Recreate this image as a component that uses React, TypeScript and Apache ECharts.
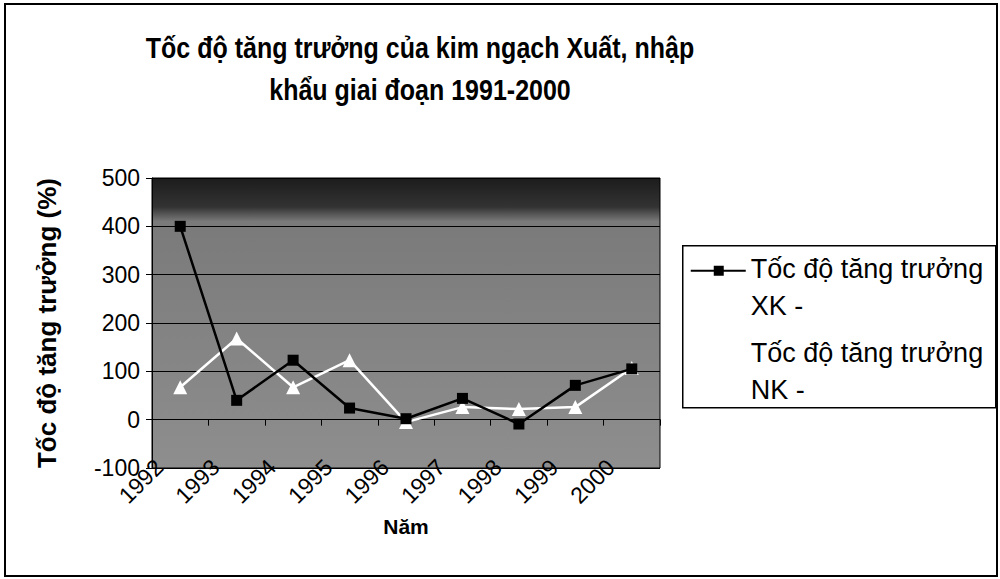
import React, { useEffect, useRef } from "react";
import * as echarts from "echarts";

const TITLE_LINES = ["Tốc độ tăng trưởng của kim ngạch Xuất, nhập", "khẩu giai đoạn 1991-2000"];
const Y_NAME = "Tốc độ tăng trưởng (%)";
const X_NAME = "Năm";
const years = ["1992", "1993", "1994", "1995", "1996", "1997", "1998", "1999", "2000"];
const seriesNames = ["Tốc độ tăng trưởng XK -", "Tốc độ tăng trưởng NK -"];
const legendLabels = ["Tốc độ tăng trưởng\nXK -", "Tốc độ tăng trưởng\nNK -"];
const xkGrowth = [400, 40, 123, 24, 2, 44, -9, 71, 105];
const nkGrowth = [67, 168, 67, 123, -5, 26, 22, 26, 107];
const yTicks = { min: -100, max: 500, interval: 100 };

const FONT = 'Arial, "Liberation Sans", sans-serif';

export default function App() {
  const ref = useRef<HTMLDivElement>(null);
  useEffect(() => {
    if (!ref.current) return;
    const chart = echarts.init(ref.current, undefined, { renderer: "svg" });
    chart.setOption({
      animation: false,
      backgroundColor: "#ffffff",
      textStyle: { fontFamily: FONT, color: "#000" },
      grid: {
        left: 152,
        right: 340,
        top: 178,
        bottom: 111,
        show: true,
        borderColor: "#000",
        borderWidth: 1,
        backgroundColor: new echarts.graphic.LinearGradient(0, 0, 0, 1, [
          { offset: 0, color: "#1c1c1c" },
          { offset: 0.1, color: "#333333" },
          { offset: 0.15, color: "#7a7a7a" },
          { offset: 1, color: "#8e8e8e" },
        ]),
      },
      xAxis: [
        {
          type: "category",
          data: years,
          position: "bottom",
          axisLine: { show: true, onZero: true, lineStyle: { color: "#000", width: 1 } },
          axisTick: { show: true, inside: false, length: 6, lineStyle: { color: "#000" } },
          axisLabel: { show: false },
          splitLine: { show: false },
        },
        {
          type: "category",
          data: years,
          position: "bottom",
          axisLine: { show: false, onZero: false },
          axisTick: { show: false },
          splitLine: { show: false },
          z: 5,
          axisLabel: {
            rotate: 45,
            margin: -26,
            padding: [0, 30, 0, 0],
            fontSize: 23,
            fontFamily: FONT,
            color: "#000",
          },
          name: X_NAME,
          nameLocation: "middle",
          nameGap: 48,
          nameMoveOverlap: false,
          nameTextStyle: { fontFamily: FONT, fontSize: 21, fontWeight: "bold", color: "#000" },
        },
      ],
      yAxis: {
        type: "value",
        min: yTicks.min,
        max: yTicks.max,
        interval: yTicks.interval,
        axisLine: { show: true, lineStyle: { color: "#000", width: 1 } },
        axisTick: { show: true, inside: false, length: 6, lineStyle: { color: "#000" } },
        axisLabel: { fontSize: 23, fontFamily: FONT, color: "#000", margin: 12 },
        splitLine: { show: true, lineStyle: { color: "#000", width: 1 } },
        name: Y_NAME,
        nameLocation: "middle",
        nameGap: 92,
        nameMoveOverlap: false,
        nameTextStyle: { fontFamily: FONT, fontSize: 26, fontWeight: "bold", color: "#000" },
      },
      series: [
        {
          name: seriesNames[0],
          type: "line",
          data: xkGrowth,
          xAxisIndex: 0,
          symbol: "rect",
          symbolSize: 11,
          itemStyle: { color: "#000" },
          lineStyle: { color: "#000", width: 2.5 },
        },
        {
          name: seriesNames[1],
          type: "line",
          data: nkGrowth,
          xAxisIndex: 0,
          symbol: "triangle",
          symbolSize: 14,
          itemStyle: { color: "#fff" },
          lineStyle: { color: "#fff", width: 2.5 },
          z: 1,
        },
      ],
      graphic: [
        {
          type: "rect",
          shape: { x: 5, y: 4, width: 992, height: 572 },
          style: { fill: "none", stroke: "#000", lineWidth: 2 },
          silent: true,
        },
        {
          type: "text",
          x: 420,
          y: 48,
          scaleY: 1.2,
          style: {
            text: TITLE_LINES[0],
            fontFamily: FONT,
            fontSize: 25,
            fontWeight: "bold",
            fill: "#000",
            align: "center",
            verticalAlign: "middle",
          },
        },
        {
          type: "text",
          x: 420,
          y: 90,
          scaleY: 1.2,
          style: {
            text: TITLE_LINES[1],
            fontFamily: FONT,
            fontSize: 25,
            fontWeight: "bold",
            fill: "#000",
            align: "center",
            verticalAlign: "middle",
          },
        },
        {
          type: "group",
          left: 682,
          top: 245,
          children: [
            {
              type: "rect",
              shape: { x: 0, y: 0, width: 313, height: 162 },
              style: { fill: "#fff", stroke: "#000", lineWidth: 1.5 },
            },
            {
              type: "line",
              shape: { x1: 8, y1: 25, x2: 63, y2: 25 },
              style: { stroke: "#000", lineWidth: 2 },
            },
            {
              type: "rect",
              shape: { x: 31, y: 20, width: 10, height: 10 },
              style: { fill: "#000" },
            },
            {
              type: "text",
              x: 68,
              y: 5,
              style: { text: legendLabels[0], fontFamily: FONT, fontSize: 27, lineHeight: 37, fill: "#000" },
            },
            {
              type: "line",
              shape: { x1: 8, y1: 108, x2: 63, y2: 108 },
              style: { stroke: "#fff", lineWidth: 2 },
            },
            {
              type: "text",
              x: 68,
              y: 89,
              style: { text: legendLabels[1], fontFamily: FONT, fontSize: 27, lineHeight: 37, fill: "#000" },
            },
          ],
        },
      ],
    });
    return () => chart.dispose();
  }, []);
  return <div ref={ref} style={{ position: "fixed", left: 0, top: 0, width: 1000, height: 579 }} />;
}
